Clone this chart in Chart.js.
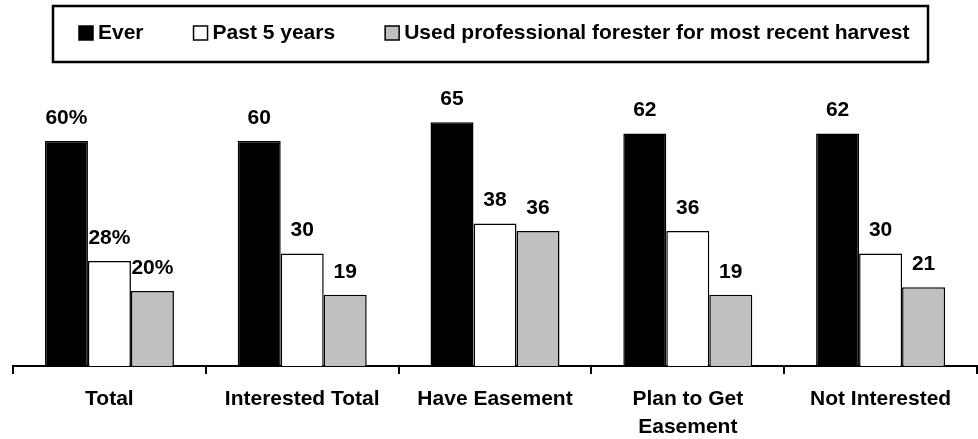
<!DOCTYPE html>
<html>
<head>
<meta charset="utf-8">
<script src="https://cdn.jsdelivr.net/npm/chart.js@4.4.1/dist/chart.umd.min.js"></script>
<style>
	html, body { margin: 0; padding: 0; background: #fff; }
	#wrapper { width: 978px; height: 439px; }
</style>
</head>
<body>
<div id="wrapper"><canvas id="bar-forester"></canvas></div>
<script>
// Chart data
const categories = ["Total", "Interested Total", "Have Easement", ["Plan to Get", "Easement"], "Not Interested"];
const seriesNames = ["Ever", "Past 5 years", "Used professional forester for most recent harvest"];
const ever = [60, 60, 65, 62, 62];
const past5Years = [28, 30, 38, 36, 30];
const usedForester = [20, 19, 36, 19, 21];
// first group is labelled with a percent sign, others are plain numbers
const labelSuffix = ["%", "", "", "", ""];
const seriesColors = ["#000000", "#ffffff", "#c0c0c0"];

const FONT = "Arial, 'Liberation Sans', sans-serif";

// draws the value above every bar
const barLabels = {
	id: "barLabels",
	afterDatasetsDraw(chart) {
		let ctx = chart.ctx;
		ctx.save();
		ctx.font = "bold 21px " + FONT;
		ctx.fillStyle = "#000";
		ctx.textAlign = "center";
		ctx.textBaseline = "middle";
		chart.data.datasets.forEach((ds, i) => {
			chart.getDatasetMeta(i).data.forEach((bar, j) => {
				ctx.fillText(ds.data[j] + labelSuffix[j], bar.x, bar.y - 23);
			});
		});
		ctx.restore();
	},
};

// boxed legend across the top
const boxLegend = {
	id: "boxLegend",
	afterDraw(chart) {
		let ctx = chart.ctx;
		ctx.save();
		ctx.lineWidth = 2.5;
		ctx.strokeStyle = "#000";
		ctx.strokeRect(53, 6, 875, 56);

		ctx.font = "bold 21px " + FONT;
		ctx.textBaseline = "middle";
		ctx.textAlign = "left";
		let x = 79;
		chart.data.datasets.forEach((ds) => {
			ctx.fillStyle = ds.backgroundColor;
			ctx.fillRect(x, 26, 14, 14);
			ctx.lineWidth = 1.5;
			ctx.strokeRect(x, 26, 14, 14);
			ctx.fillStyle = "#000";
			ctx.fillText(ds.label, x + 19, 33);
			x += 19 + ctx.measureText(ds.label).width + 50;
		});
		ctx.restore();
	},
};

let datasets = [ever, past5Years, usedForester].map((values, i) => ({
	label: seriesNames[i],
	data: values,
	backgroundColor: seriesColors[i],
	borderColor: "#000",
	borderWidth: 1.5,
	borderSkipped: "bottom",
	categoryPercentage: 0.669,
	barPercentage: 1,
}));

let options = {
	responsive: false,
	animation: false,
	layout: {
		padding: { top: 66, left: 13, right: 1, bottom: 0 },
	},
	scales: {
		x: {
			afterFit: (scale) => {
				scale.height = 73;
			},
			grid: {
				offset: true,
				drawOnChartArea: false,
				drawTicks: true,
				tickLength: 8,
				color: "#000",
				lineWidth: 2,
			},
			border: { display: true, color: "#000", width: 2 },
			ticks: {
				color: "#000",
				padding: 11,
				maxRotation: 0,
				autoSkip: false,
				font: { family: FONT, size: 21, weight: "bold", lineHeight: 1.333 },
			},
		},
		y: {
			display: false,
			min: 0,
			max: 80,
		},
	},
	plugins: {
		legend: { display: false },
		tooltip: { enabled: false },
	},
};

let canvas = document.getElementById("bar-forester");
canvas.width = 978;
canvas.height = 439;

new Chart(canvas.getContext("2d"), {
	type: "bar",
	data: { labels: categories, datasets: datasets },
	options: options,
	plugins: [barLabels, boxLegend],
});
</script>
</body>
</html>
